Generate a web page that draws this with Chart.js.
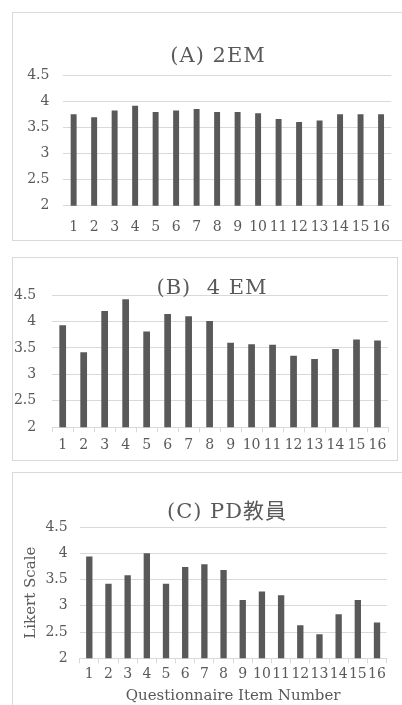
<!DOCTYPE html>
<html><head><meta charset="utf-8">
<script src="https://cdn.jsdelivr.net/npm/chart.js@4"></script>
<style>
html,body{margin:0;padding:0;background:#fff;overflow:hidden;width:402px;height:705px;}
.box{position:absolute;border:1px solid #d9d9d9;box-sizing:border-box;background:#fff}
canvas{position:absolute}
</style></head><body>
<div class="box" style="left:12px;top:12px;width:410px;height:229px"></div>
<div class="box" style="left:12px;top:257px;width:386px;height:204px"></div>
<div class="box" style="left:12px;top:472px;width:410px;height:260px"></div>
<canvas id="cA" width="382" height="226" style="left:13px;top:13px"></canvas>
<canvas id="cB" width="383" height="201" style="left:13px;top:258px"></canvas>
<canvas id="cC" width="389" height="232" style="left:13px;top:473px"></canvas>
<script>
const items = ['1','2','3','4','5','6','7','8','9','10','11','12','13','14','15','16'];
const valuesA = [3.75,3.69,3.82,3.91,3.79,3.82,3.85,3.79,3.79,3.77,3.66,3.60,3.63,3.75,3.75,3.75];
const valuesB = [3.93,3.42,4.20,4.42,3.81,4.14,4.10,4.01,3.60,3.57,3.56,3.35,3.29,3.48,3.66,3.64];
const valuesC = [3.94,3.42,3.58,4.00,3.42,3.74,3.79,3.68,3.11,3.27,3.20,2.63,2.46,2.84,3.11,2.68];
const titles = ['(A) 2EM', '(B)  4 EM', '(C) PD教員'];
const yLabel = 'Likert Scale';
const xLabel = 'Questionnaire Item Number';
const yMin = 2, yMax = 4.5, yStep = 0.5;

const FONT = "'DejaVu Serif', 'Noto Sans CJK JP', serif";
const TXT = '#595959';
const GRID = '#d9d9d9';
const BAR = '#595959';

const panelTitle = {
  id: 'panelTitle',
  afterDraw(chart, args, opts) {
    const ctx = chart.ctx;
    ctx.save();
    ctx.fillStyle = TXT;
    ctx.font = opts.size + 'px ' + FONT;
    if ('letterSpacing' in ctx) ctx.letterSpacing = '1px';
    ctx.textAlign = 'center';
    ctx.textBaseline = 'middle';
    ctx.fillText(opts.text, opts.x, opts.y);
    ctx.restore();
  }
};

function make(id, values, cfg) {
  new Chart(document.getElementById(id), {
    type: 'bar',
    data: { labels: items, datasets: [{ data: values, backgroundColor: BAR, borderWidth: 0,
      categoryPercentage: 1, barPercentage: cfg.barPct }] },
    plugins: [panelTitle],
    options: {
      responsive: false, animation: false, devicePixelRatio: 1,
      layout: { padding: { top: cfg.padTop, right: cfg.padRight, left: 0, bottom: 0 } },
      plugins: { legend: { display: false }, tooltip: { enabled: false },
        panelTitle: { text: cfg.title, x: cfg.tx, y: cfg.ty, size: 21 } },
      scales: {
        x: {
          afterFit: s => { s.height = cfg.xH; },
          grid: cfg.ticksMarks ? { display: true, drawOnChartArea: false, drawTicks: true, tickLength: 5, color: GRID, offset: true } : { display: false },
          border: { display: !!cfg.ticksMarks, color: GRID },
          ticks: { color: TXT, font: { family: FONT, size: 14 }, padding: cfg.xPad, maxRotation: 0, autoSkip: false },
          title: cfg.xTitle ? { display: true, text: xLabel, color: TXT, font: { family: FONT, size: 15 }, padding: { top: 0, bottom: 0 } } : { display: false }
        },
        y: {
          min: yMin, max: yMax,
          afterFit: s => { s.width = cfg.yW; },
          grid: { color: GRID, drawTicks: false },
          border: { display: false },
          ticks: { stepSize: yStep, color: TXT, font: { family: FONT, size: 14 }, padding: cfg.yPad,
            callback: v => String(v) },
          title: cfg.yTitle ? { display: true, text: yLabel, color: TXT, font: { family: FONT, size: 15 }, padding: { top: 9, bottom: 0 } } : { display: false }
        }
      }
    }
  });
}

make('cA', valuesA, { title: titles[0], tx: 205, ty: 44, padTop: 62, padRight: 1, yW: 50.4, xH: 33.3, yPad: 14, xPad: 5, barPct: 0.29, ticksMarks: false });
make('cB', valuesB, { title: titles[1], tx: 199, ty: 31, padTop: 37, padRight: 8, yW: 39.2, xH: 31.7, yPad: 16, xPad: 5, barPct: 0.32, ticksMarks: true });
make('cC', valuesC, { title: titles[2], tx: 214, ty: 40, padTop: 54, padRight: 15.4, yW: 66.7, xH: 46.7, yPad: 12, xPad: 3, barPct: 0.33, ticksMarks: true, xTitle: true, yTitle: true });
</script>
</body></html>
